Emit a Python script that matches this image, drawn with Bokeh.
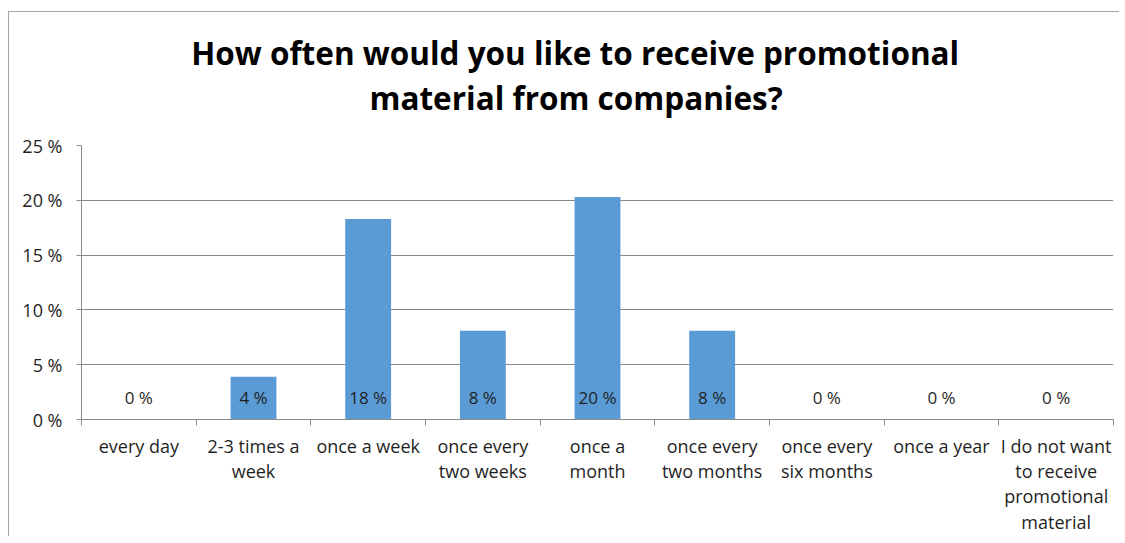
from bokeh.plotting import figure
from bokeh.layouts import column
from bokeh.models import ColumnDataSource, FixedTicker, PrintfTickFormatter, Range1d
from bokeh.core.properties import value
from bokeh.embed import file_html
from bokeh.resources import INLINE

title_lines = ["How often would you like to receive promotional",
               "material from companies?"]
categories = ["every day", "2-3 times a week", "once a week", "once every two weeks",
              "once a month", "once every two months", "once every six months",
              "once a year", "I do not want to receive promotional material"]
tick_labels = ["every day", "2-3 times a\nweek", "once a week", "once every\ntwo weeks",
               "once a\nmonth", "once every\ntwo months", "once every\nsix months",
               "once a year", "I do not want\nto receive\npromotional\nmaterial"]
values = [0.0, 3.9, 18.3, 8.1, 20.3, 8.1, 0.0, 0.0, 0.0]
value_labels = ["0 %", "4 %", "18 %", "8 %", "20 %", "8 %", "0 %", "0 %", "0 %"]
y_ticks = [0, 5, 10, 15, 20, 25]

FONT = "Open Sans"
TXT = "#1f1f1f"
GRID = "#8a8a8a"
W = 1110
TITLE_H = 121

# ---- title strip (pixel coordinates, y downward) ----
tf = figure(width=W, height=TITLE_H, output_backend="svg", toolbar_location=None,
            x_range=Range1d(0, W), y_range=Range1d(TITLE_H, 0),
            x_axis_location=None, y_axis_location=None,
            min_border_left=0, min_border_right=0, min_border_top=0, min_border_bottom=0)
tf.outline_line_color = None
tf.xgrid.grid_line_color = None
tf.ygrid.grid_line_color = None
tsrc = ColumnDataSource(dict(x=[531, 532], y=[40, 85], t=title_lines))
tf.text(x="x", y="y", text="t", source=tsrc, text_align="center", text_baseline="middle",
        text_font=value(FONT), text_font_size="31.5px", text_font_style="bold",
        text_color="#000000")

# ---- chart ----
n = len(categories)
xs = [i + 0.5 for i in range(n)]
src = ColumnDataSource(dict(x=xs, top=values, cat=categories, lab=value_labels, base=[0] * n))

p = figure(width=W, height=403, output_backend="svg", toolbar_location=None,
           x_range=Range1d(0, n), y_range=Range1d(0, 25),
           min_border_left=72, min_border_right=6, min_border_top=12, min_border_bottom=117)
p.outline_line_color = None

p.vbar(x="x", top="top", width=0.4, source=src, fill_color="#5B9BD5", line_color=None)
p.text(x="x", y="base", text="lab", source=src, text_align="center", text_baseline="middle",
       y_offset=-22, text_font=value(FONT), text_font_size="17px", text_color=TXT)

p.xgrid.grid_line_color = None
p.ygrid.grid_line_color = GRID
p.ygrid.ticker = FixedTicker(ticks=y_ticks)

p.yaxis.ticker = FixedTicker(ticks=y_ticks)
p.yaxis.formatter = PrintfTickFormatter(format="%d %%")
p.yaxis.axis_line_color = GRID
p.yaxis.major_tick_line_color = GRID
p.yaxis.major_tick_in = 0
p.yaxis.major_tick_out = 5
p.yaxis.minor_tick_line_color = None
p.yaxis.major_label_standoff = 14
p.yaxis.major_label_text_font = FONT
p.yaxis.major_label_text_font_size = "18px"
p.yaxis.major_label_text_color = TXT

p.xaxis.ticker = FixedTicker(ticks=xs, minor_ticks=list(range(n + 1)))
p.xaxis.major_label_overrides = {x: t for x, t in zip(xs, tick_labels)}
p.xaxis.axis_line_color = GRID
p.xaxis.major_tick_line_color = None
p.xaxis.minor_tick_line_color = GRID
p.xaxis.minor_tick_in = 0
p.xaxis.minor_tick_out = 6
p.xaxis.major_label_standoff = 8
p.xaxis.major_label_text_font = FONT
p.xaxis.major_label_text_font_size = "18px"
p.xaxis.major_label_text_color = TXT
p.xaxis.major_label_text_line_height = 1.06

layout = column(tf, p, spacing=0)
layout.styles = {"margin-left": "8px", "margin-top": "11px",
                 "border-left": "1px solid #a6a6a6", "border-top": "1px solid #a6a6a6"}

open("out.html", "w").write(file_html(layout, INLINE))
